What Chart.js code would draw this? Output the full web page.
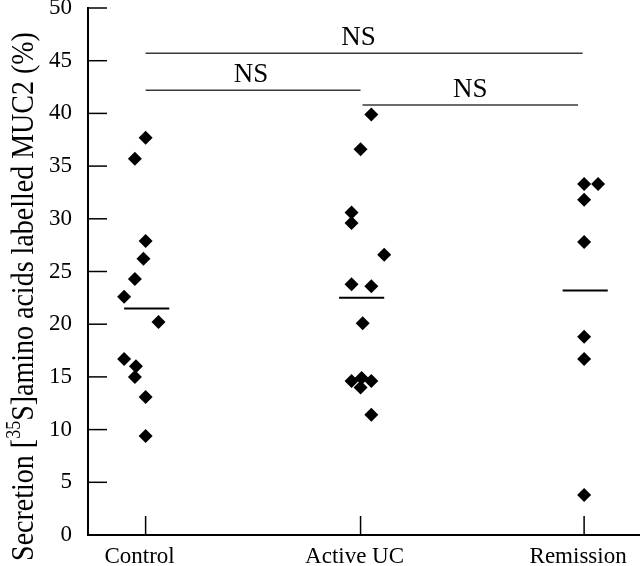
<!DOCTYPE html>
<html>
<head>
<meta charset="utf-8">
<script src="https://cdn.jsdelivr.net/npm/chart.js@4/dist/chart.umd.min.js"></script>
<style>
  body { margin: 0; background: #fff; }
  canvas { display: block; }
</style>
</head>
<body>
<canvas id="secretionChart" width="640" height="566"></canvas>
<script>
// categories and where they sit on the x scale
const categories = ['Control', 'Active UC', 'Remission'];
const categoryPos = [1, 2, 3.04];

// individual values (% secreted) and small horizontal jitter
const controlValues = [37.7, 35.7, 27.9, 26.2, 24.3, 22.6, 20.2, 16.7, 16.0, 15.0, 13.1, 9.4];
const controlJitter = [0, -0.05, 0, -0.01, -0.05, -0.1, 0.06, -0.1, -0.045, -0.05, 0, 0];
const activeValues = [39.9, 36.6, 30.6, 29.6, 26.6, 23.8, 23.6, 20.1, 14.6, 14.9, 14.6, 14.0, 11.4];
const activeJitter = [0.05, 0, -0.042, -0.042, 0.11, -0.042, 0.05, 0.01, -0.042, 0.005, 0.05, 0, 0.05];
const remissionValues = [33.3, 33.3, 31.8, 27.8, 18.8, 16.7, 3.8];
const remissionJitter = [0, 0.065, 0, 0, 0, 0, 0];

// group means
const groupMeans = [21.5, 22.5, 23.2];

// significance bars: from, to, level, label and where the label sits
const sigFrom = [1, 1, 2.009];
const sigTo = [3.033, 2, 3.012];
const sigLevel = [45.7, 42.2, 40.8];
const sigText = ['NS', 'NS', 'NS'];
const sigTextPos = [1.99, 1.49, 2.51];

const yTicks = [0, 5, 10, 15, 20, 25, 30, 35, 40, 45, 50];

const FONT = '"Liberation Serif", "Times New Roman", serif';

function toPoints(values, jitter, pos) {
    return values.map((v, i) => ({ x: pos + jitter[i], y: v }));
}

const pointSets = [
    toPoints(controlValues, controlJitter, categoryPos[0]),
    toPoints(activeValues, activeJitter, categoryPos[1]),
    toPoints(remissionValues, remissionJitter, categoryPos[2])
];

const datasets = [];
pointSets.forEach((pts, i) => {
    datasets.push({
        label: categories[i],
        data: pts,
        pointStyle: 'rectRot',
        pointRadius: 7,
        pointBackgroundColor: '#000',
        pointBorderColor: '#000',
        pointBorderWidth: 0,
        showLine: false
    });
});
groupMeans.forEach((m, i) => {
    datasets.push({
        label: categories[i] + ' mean',
        data: [{ x: categoryPos[i] - 0.1, y: m }, { x: categoryPos[i] + 0.11, y: m }],
        showLine: true,
        borderColor: '#000',
        borderWidth: 2,
        pointRadius: 0
    });
});
sigLevel.forEach((lvl, i) => {
    datasets.push({
        label: 'sig ' + i,
        data: [{ x: sigFrom[i], y: lvl }, { x: sigTo[i], y: lvl }],
        showLine: true,
        borderColor: '#3a3a3a',
        borderWidth: 1.5,
        pointRadius: 0
    });
});

// inward tick marks, NS labels and the y title with its superscript
const decorations = {
    id: 'decorations',
    afterDraw(chart) {
        const ctx = chart.ctx;
        const xs = chart.scales.x;
        const ys = chart.scales.y;
        const area = chart.chartArea;
        ctx.save();
        ctx.strokeStyle = '#000';
        ctx.lineWidth = 1.5;
        ys.ticks.forEach(t => {
            const py = ys.getPixelForValue(t.value);
            ctx.beginPath();
            ctx.moveTo(area.left, py);
            ctx.lineTo(area.left + 19, py);
            ctx.stroke();
        });
        xs.ticks.forEach(t => {
            const px = xs.getPixelForValue(t.value);
            ctx.beginPath();
            ctx.moveTo(px, area.bottom);
            ctx.lineTo(px, area.bottom - 19);
            ctx.stroke();
        });

        // NS labels over the bars
        ctx.fillStyle = '#000';
        ctx.font = '27px ' + FONT;
        ctx.textAlign = 'center';
        ctx.textBaseline = 'alphabetic';
        sigText.forEach((txt, i) => {
            const px = xs.getPixelForValue(sigTextPos[i]);
            const py = ys.getPixelForValue(sigLevel[i]);
            ctx.fillText(txt, px, py - 8);
        });

        // y axis title: Secretion [35S]amino acids labelled MUC2 (%)
        const parts = [
            { text: 'Secretion [', size: 28, rise: 0 },
            { text: '35', size: 18, rise: 12 },
            { text: 'S]amino acids labelled MUC2 (%)', size: 28, rise: 0 }
        ];
        let total = 0;
        parts.forEach(p => {
            ctx.font = p.size + 'px ' + FONT;
            p.w = ctx.measureText(p.text).width;
            total += p.w;
        });
        ctx.translate(33, (area.top + area.bottom) / 2 + 25);
        ctx.rotate(-Math.PI / 2);
        ctx.scale(1, 1.12);
        ctx.textAlign = 'left';
        let x = -total / 2;
        parts.forEach(p => {
            ctx.font = p.size + 'px ' + FONT;
            ctx.fillText(p.text, x, -p.rise);
            x += p.w;
        });
        ctx.restore();
    }
};

const chart = new Chart(document.getElementById('secretionChart').getContext('2d'), {
    type: 'scatter',
    data: { datasets: datasets },
    options: {
        responsive: false,
        animation: false,
        layout: { autoPadding: false, padding: { top: 8, right: 0, left: 0, bottom: 0 } },
        plugins: {
            legend: { display: false },
            tooltip: { enabled: false }
        },
        scales: {
            x: {
                type: 'linear',
                min: 0.732,
                max: 3.3,
                grid: { display: false, drawTicks: false },
                border: { display: true, color: '#000', width: 2 },
                afterBuildTicks: (scale) => {
                    scale.ticks = categoryPos.map(v => ({ value: v }));
                },
                afterFit: (scale) => {
                    scale.height = 31;
                    scale.paddingLeft = 0;
                    scale.paddingRight = 0;
                },
                ticks: {
                    color: '#000',
                    font: { family: FONT, size: 23 },
                    padding: 8,
                    labelOffset: -6,
                    maxRotation: 0,
                    autoSkip: false,
                    callback: (value) => {
                        const i = categoryPos.indexOf(value);
                        return i >= 0 ? categories[i] : '';
                    }
                }
            },
            y: {
                min: 0,
                max: 50,
                grid: { display: false, drawTicks: false },
                border: { display: true, color: '#000', width: 2 },
                afterBuildTicks: (scale) => {
                    scale.ticks = yTicks.map(v => ({ value: v }));
                },
                afterFit: (scale) => {
                    scale.width = 88;
                    scale.paddingTop = 0;
                    scale.paddingBottom = 0;
                },
                ticks: {
                    color: '#000',
                    font: { family: FONT, size: 23 },
                    padding: 16
                }
            }
        }
    },
    plugins: [decorations]
});
</script>
</body>
</html>
